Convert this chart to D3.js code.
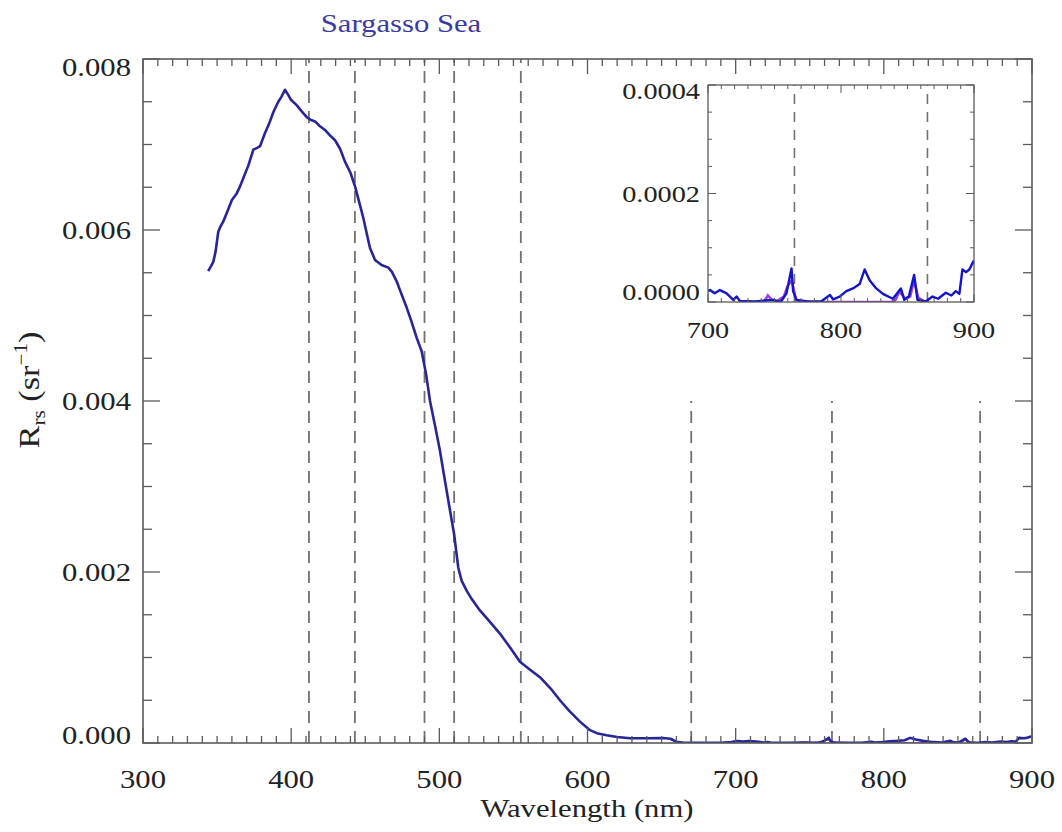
<!DOCTYPE html>
<html>
<head>
<meta charset="utf-8">
<script src="https://cdn.jsdelivr.net/npm/d3@7"></script>
<style>
  body { margin: 0; background: #fff; }
  text { font-family: "Liberation Serif", "Times New Roman", serif; fill: #222; }
</style>
</head>
<body>
<div id="chart"></div>
<script>
// Visible part of the spectrum (nm, sr^-1)
var visWl = [344,346,347.5,349,350.8,352,354.2,357,360,363,365.5,368,371,374.5,377,379,382,385.7,388,391.3,393.5,395.8,398,400,403.7,407,410.5,413,416.1,419,422.8,426,429.6,433,436.3,440,443.1,446,448.7,451,453.2,456.6,461,465.6,468,471.2,474,478,481,484.7,488.1,491,493.7,497,500.4,503,506.1,509.9,512.8,515,518.5,522,527.4,534,540.9,548,554.4,561,567.9,575,581.4,588,594.9,601.7,607,612.9,620,628.7,640,651,656,660,665,670,680,690,697];
var visRrs = [0.00552,0.00558,0.00563,0.00575,0.00598,0.00603,0.0061,0.00622,0.00635,0.00642,0.00651,0.00662,0.00675,0.00694,0.00696,0.00698,0.00712,0.00727,0.00738,0.0075,0.00756,0.00764,0.00758,0.00752,0.00746,0.00739,0.00732,0.00729,0.00727,0.00722,0.00717,0.00711,0.00705,0.00695,0.0068,0.00667,0.00651,0.00632,0.00614,0.00596,0.00579,0.00565,0.00559,0.00556,0.00551,0.0054,0.00527,0.00509,0.00494,0.00474,0.00458,0.00432,0.004,0.00372,0.00342,0.00315,0.00283,0.00245,0.00205,0.0019,0.00178,0.00168,0.00155,0.00142,0.00128,0.00111,0.00095,0.00086,0.00077,0.00064,0.0005,0.00037,0.00025,0.00015,0.00011,0.00009,0.00007,0.000055,0.000055,0.000058,0.00005,0.000015,0.000003,0.000002,0.000002,0.000003,0.000012];

// Near-infrared part (also shown in the inset)
var nirWl = [700,701.5,705,709,714,719,721.5,724,735,749,752,755,759,762.8,764,766.5,775,785,791.7,794,799,804,809,814,817.8,821.5,826.5,831.5,839,845,847.6,851,855,857.5,863.8,868.8,873,878.8,883,886.3,889,891.3,894,896.5,899.5,900];
var nirRrs = [0.00002,0.000022,0.000016,0.000022,0.000016,0.000004,0.00001,0.000002,0.000001,0.000004,0.000001,0.000001,0.000016,0.000062,0.00002,0.000004,0.000001,0.000001,0.000013,0.000005,0.00001,0.00002,0.000025,0.000033,0.00006,0.00004,0.000025,0.000015,0.000006,0.000025,0.000004,0.00001,0.00005,0.000004,0.000001,0.00001,0.000006,0.000017,0.000012,0.00002,0.000015,0.00006,0.000055,0.00006,0.000075,0.00007];

// second, mostly hidden spectrum (magenta)
var altWl = [742,745,748,752,757,760,763,766,770,838,841,844,848,852,855,858,862,866];
var altRrs = [0,0.000012,0.000004,0.000002,0.00001,0.00003,0.00004,0.000005,0,0,0.000004,0.00002,0.000006,0.00001,0.00004,0.000008,0.000002,0];

// band centres
var bandsFull = [412,443,490,510,555];
var bandsLow = [670,765,865];
var insetBands = [765,865];

var xTicks = [300,400,500,600,700,800,900];
var yTicks = [0,0.002,0.004,0.006,0.008];
var yTickLabels = ["0.000","0.002","0.004","0.006","0.008"];
var insetXTicks = [700,800,900];
var insetYTicks = [0,0.0002,0.0004];
var insetYTickLabels = ["0.0000","0.0002","0.0004"];

var mainData = visWl.map((w, i) => [w, visRrs[i]]).concat(nirWl.map((w, i) => [w, nirRrs[i]]));
var nirData = nirWl.map((w, i) => [w, nirRrs[i]]);
var altData = altWl.map((w, i) => [w, altRrs[i]]);

var W = 1062, H = 832;
var SX = 1.18; // the original lettering is a bit wider than Times
var svg = d3.select("#chart").append("svg").attr("width", W).attr("height", H)
   .attr("font-family", "Liberation Serif, Times New Roman, serif");

var frameColor = "#5a5a5a";
var dashColor = "#757070";

function place(px, py) { return "translate(" + px + "," + py + ") scale(" + SX + ",1)"; }

// ---------- main plot ----------
var x = d3.scaleLinear().domain([300, 900]).range([143, 1032]);
var y = d3.scaleLinear().domain([0, 0.008]).range([743, 59]);

svg.append("clipPath").attr("id", "clipMain").append("rect")
   .attr("x", 143).attr("y", 59).attr("width", 889).attr("height", 684);

// dashed band lines
svg.selectAll(".bandFull").data(bandsFull).enter().append("line")
   .attr("x1", d => x(d)).attr("x2", d => x(d))
   .attr("y1", y(0)).attr("y2", y(0.008))
   .attr("stroke", dashColor).attr("stroke-width", 1.8)
   .attr("stroke-dasharray", "12,8");
svg.selectAll(".bandLow").data(bandsLow).enter().append("line")
   .attr("x1", d => x(d)).attr("x2", d => x(d))
   .attr("y1", y(0)).attr("y2", y(0.004))
   .attr("stroke", dashColor).attr("stroke-width", 1.8)
   .attr("stroke-dasharray", "12,8");

var line = d3.line().x(d => x(d[0])).y(d => y(d[1]));
var gMain = svg.append("g").attr("clip-path", "url(#clipMain)");
gMain.append("path").datum(altData).attr("d", line)
   .attr("fill", "none").attr("stroke", "#c050d0").attr("stroke-width", 2);
gMain.append("path").datum(mainData).attr("d", line)
   .attr("fill", "none").attr("stroke", "#26269a").attr("stroke-width", 2.6)
   .attr("stroke-linejoin", "round");

// ticks (IDL style, inward on all four sides)
var xMinor = d3.range(300, 901, 10);
var yMinor = d3.range(0, 0.00801, 0.0005);
var ticks = svg.append("g").attr("stroke", frameColor).attr("stroke-width", 1.3);
xMinor.forEach(function(v) {
  var len = (v % 100 === 0) ? 15 : 7;
  ticks.append("line").attr("x1", x(v)).attr("x2", x(v)).attr("y1", 743).attr("y2", 743 - len);
  ticks.append("line").attr("x1", x(v)).attr("x2", x(v)).attr("y1", 59).attr("y2", 59 + len);
});
yMinor.forEach(function(v, i) {
  var len = (i % 4 === 0) ? 17 : 9;
  ticks.append("line").attr("x1", 143).attr("x2", 143 + len).attr("y1", y(v)).attr("y2", y(v));
  ticks.append("line").attr("x1", 1032).attr("x2", 1032 - len).attr("y1", y(v)).attr("y2", y(v));
});
svg.append("rect").attr("x", 143).attr("y", 59).attr("width", 889).attr("height", 684)
   .attr("fill", "none").attr("stroke", frameColor).attr("stroke-width", 1.6);

// tick labels
svg.selectAll(".xl").data(xTicks).enter().append("text")
   .attr("transform", d => place(x(d), 788))
   .attr("text-anchor", "middle").attr("font-size", 26)
   .text(d => d);
svg.selectAll(".yl").data(yTicks).enter().append("text")
   .attr("transform", d => place(131, Math.min(Math.max(y(d), 67), 735) + 9))
   .attr("text-anchor", "end").attr("font-size", 26)
   .text((d, i) => yTickLabels[i]);

// titles
svg.append("text").attr("transform", place(401, 32)).attr("text-anchor", "middle")
   .attr("font-size", 26).style("fill", "#3a3aa6").text("Sargasso Sea");
svg.append("text").attr("transform", place(587, 817)).attr("text-anchor", "middle")
   .attr("font-size", 26).text("Wavelength (nm)");

var yl = svg.append("text").attr("transform", "translate(39,390) rotate(-90) scale(" + SX + ",1)")
   .attr("text-anchor", "middle").attr("font-size", 29);
yl.append("tspan").text("R");
yl.append("tspan").attr("font-size", 18).attr("dy", 6).text("rs");
yl.append("tspan").attr("dy", -6).text(" (sr");
yl.append("tspan").attr("font-size", 18).attr("dy", -12).text("\u22121");
yl.append("tspan").attr("dy", 12).text(")");

// ---------- inset ----------
var ix = d3.scaleLinear().domain([700, 900]).range([708, 974]);
var iy = d3.scaleLinear().domain([0, 0.0004]).range([302, 85]);

svg.append("rect").attr("x", 708).attr("y", 85).attr("width", 266).attr("height", 217)
   .attr("fill", "#fff");
svg.append("clipPath").attr("id", "clipInset").append("rect")
   .attr("x", 708).attr("y", 85).attr("width", 266).attr("height", 217);

svg.selectAll(".ib").data(insetBands).enter().append("line")
   .attr("x1", d => ix(d)).attr("x2", d => ix(d))
   .attr("y1", 302).attr("y2", 85)
   .attr("stroke", dashColor).attr("stroke-width", 1.6)
   .attr("stroke-dasharray", "10,8");

var iline = d3.line().x(d => ix(d[0])).y(d => iy(d[1]));
var gIn = svg.append("g").attr("clip-path", "url(#clipInset)");
gIn.append("path").datum(altData).attr("d", iline)
   .attr("fill", "none").attr("stroke", "#a040e0").attr("stroke-width", 2.6);
gIn.append("path").datum(nirData).attr("d", iline)
   .attr("fill", "none").attr("stroke", "#1414cc").attr("stroke-width", 2.4)
   .attr("stroke-linejoin", "round");

var iticks = svg.append("g").attr("stroke", frameColor).attr("stroke-width", 1);
d3.range(700, 901, 10).forEach(function(v) {
  var len = (v % 100 === 0) ? 8 : 4;
  iticks.append("line").attr("x1", ix(v)).attr("x2", ix(v)).attr("y1", 302).attr("y2", 302 - len);
  iticks.append("line").attr("x1", ix(v)).attr("x2", ix(v)).attr("y1", 85).attr("y2", 85 + len);
});
d3.range(0, 0.000401, 0.00005).forEach(function(v, i) {
  var len = (i % 4 === 0) ? 8 : 4;
  iticks.append("line").attr("x1", 708).attr("x2", 708 + len).attr("y1", iy(v)).attr("y2", iy(v));
  iticks.append("line").attr("x1", 974).attr("x2", 974 - len).attr("y1", iy(v)).attr("y2", iy(v));
});
svg.append("rect").attr("x", 708).attr("y", 85).attr("width", 266).attr("height", 217)
   .attr("fill", "none").attr("stroke", frameColor).attr("stroke-width", 1.3);

svg.selectAll(".ixl").data(insetXTicks).enter().append("text")
   .attr("transform", d => place(ix(d), 338))
   .attr("text-anchor", "middle").attr("font-size", 24)
   .text(d => d);
svg.selectAll(".iyl").data(insetYTicks).enter().append("text")
   .attr("transform", d => place(700, Math.min(Math.max(iy(d), 91), 292) + 8))
   .attr("text-anchor", "end").attr("font-size", 24)
   .text((d, i) => insetYTickLabels[i]);
</script>
</body>
</html>
